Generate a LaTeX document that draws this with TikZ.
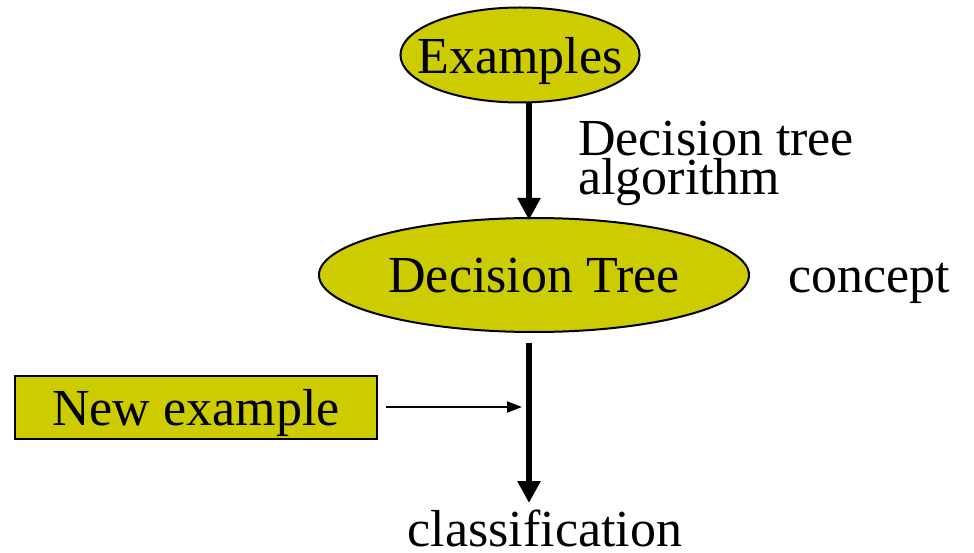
\documentclass[tikz,border=0pt]{standalone}
\usepackage{fontspec}
\setmainfont{Liberation Serif}
\usetikzlibrary{shapes.geometric,arrows.meta}
\definecolor{olive}{HTML}{CCCC00}
\begin{document}
\begin{tikzpicture}[x=1pt,y=-1pt,
  txt/.style={font=\fontsize{52}{39}\selectfont, inner sep=0pt},
  oval/.style={ellipse, draw=black, line width=2pt, fill=olive, txt, text depth=0pt},
  box/.style={rectangle, draw=black, line width=2pt, fill=olive, txt, text depth=0pt},
  thick arrow/.style={line width=6pt, -{Triangle[length=22pt,width=22pt]}},
  thin arrow/.style={line width=2pt, -{Triangle[length=15pt,width=11pt]}}]
\useasboundingbox (0,0) rectangle (974,553);
\node[oval, inner xsep=-18pt, minimum height=95pt] (ex) at (520,55) {Examples};
\node[oval, minimum width=430pt, minimum height=114pt] (dt) at (534,275) {Decision Tree};
\node[box, minimum width=362pt, minimum height=63pt] (ne) at (196,407) {New example};
\node[txt, anchor=base west, align=left] (alg) at (578,195) {Decision tree\\algorithm};
\node[txt, anchor=base west] (con) at (788,293) {concept};
\node[txt, anchor=base] (cls) at (545,546) {classification};
\coordinate (c1) at (529,343);
\coordinate (c2) at (529,503);
\draw[thick arrow] (ex.south -| c1) -- (c1 |- 0,220);
\draw[thick arrow] (c1) -- (c2);
\draw[thin arrow] ([xshift=8pt]ne.east) -- ([xshift=-7pt]c1 |- ne.east);
\end{tikzpicture}
\end{document}
